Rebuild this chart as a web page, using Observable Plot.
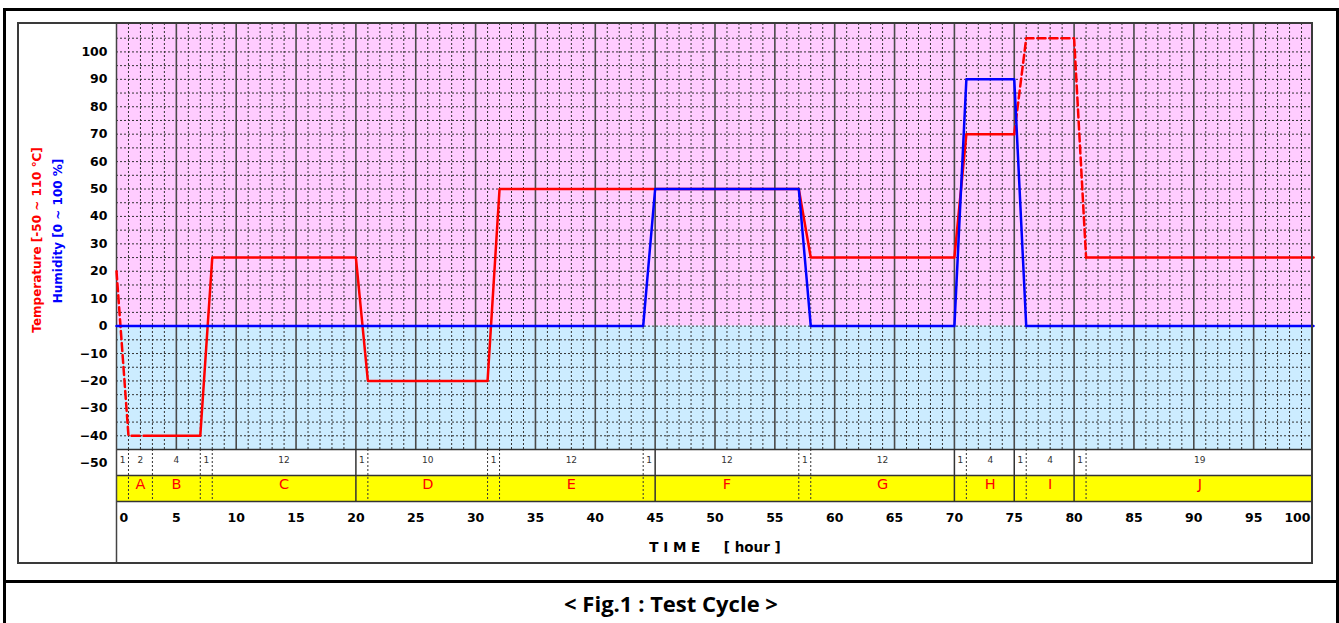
<!DOCTYPE html>
<html><head><meta charset="utf-8">
<script src="https://cdn.jsdelivr.net/npm/d3@7"></script>
<script src="https://cdn.jsdelivr.net/npm/@observablehq/plot@0.6"></script>
<style>
body{margin:0;background:#fff;}
#page{position:relative;width:1339px;height:623px;overflow:hidden;font-family:"DejaVu Sans",sans-serif;}
#chart{position:absolute;left:0;top:0;}
#chart svg text{white-space:pre;}
.box{position:absolute;box-sizing:border-box;pointer-events:none;}
#caption{position:absolute;left:3px;top:580px;width:1336px;height:70px;border:3px solid #000;box-sizing:border-box;
  text-align:center;font:bold 22px "Open Sans",sans-serif;line-height:40px;color:#000;}
</style></head><body>
<div id="page">
  <div id="chart"></div>
  <div class="box" style="left:3px;top:8px;width:1336px;height:575px;border:3px solid #000;"></div>
  <div class="box" style="left:17px;top:22px;width:1296px;height:542px;border:2px solid #3a3a3a;"></div>
  <div id="caption">&lt; Fig.1 : Test Cycle &gt;</div>
</div>
<script>
// ---- data ----
const tempTime  = [0, 1, 3, 7, 8, 20, 21, 31, 32, 44, 45, 57, 58, 70, 71, 75, 76, 80, 81, 100];
const tempValue = [20, -40, -40, -40, 25, 25, -20, -20, 50, 50, 50, 50, 25, 25, 70, 70, 105, 105, 25, 25];
const tempDashed = [[0, 3], [75, 81]];
const humTime  = [0, 44, 45, 57, 58, 70, 71, 75, 76, 100];
const humValue = [0, 0, 50, 50, 0, 0, 90, 90, 0, 0];
const segStart = [0, 1, 3, 7, 8, 20, 21, 31, 32, 44, 45, 57, 58, 70, 71, 75, 76, 80, 81];
const segHours = [1, 2, 4, 1, 12, 1, 10, 1, 12, 1, 12, 1, 12, 1, 4, 1, 4, 1, 19];
const phaseLetters = ["A", "B", "C", "D", "E", "F", "G", "H", "I", "J"];
const phaseStart = [1, 3, 8, 21, 32, 45, 58, 71, 76, 81];
const phaseEnd   = [3, 7, 20, 31, 44, 57, 70, 75, 80, 100];
const phaseBounds = [20, 45, 70, 75, 80];
const xTicks = [0, 5, 10, 15, 20, 25, 30, 35, 40, 45, 50, 55, 60, 65, 70, 75, 80, 85, 90, 95, 100];
const yTicks = [-50, -40, -30, -20, -10, 0, 10, 20, 30, 40, 50, 60, 70, 80, 90, 100];
const zones = [{lo: 0, hi: 110, fill: "#ffccff"}, {lo: -45, hi: 0, fill: "#ccecff"}];
const tempTitle = "Temperature [-50 ~ 110 ℃]";
const humTitle = "Humidity [0 ~ 100 %]";
const xTitle = "T I M E     [ hour ]";

// ---- derived tables ----
const tempRows = [];
{
  let piece = -1, prev = null;
  for (let i = 0; i < tempTime.length - 1; i++) {
    const a = tempTime[i], b = tempTime[i + 1];
    const dashed = tempDashed.some(([s, e]) => a >= s && b <= e);
    if (dashed !== prev) { piece++; prev = dashed; tempRows.push({t: a, v: tempValue[i], piece, dashed}); }
    tempRows.push({t: b, v: tempValue[i + 1], piece, dashed});
  }
}
const humRows = humTime.map((t, i) => ({t, v: humValue[i]}));
const segRows = segStart.map((s, i) => ({mid: s + segHours[i] / 2, label: String(segHours[i])}));
const phaseRows = phaseLetters.map((l, i) => ({mid: (phaseStart[i] + phaseEnd[i]) / 2, label: l}));
const subBounds = segStart.filter(s => s > 0 && !phaseBounds.includes(s));
const minorX = d3.range(1, 100).filter(h => h % 5 !== 0);
const majorX = d3.range(5, 100, 5);
const gridY = d3.range(-40, 110, 5);

// layout rows in y units (plot spans 110 .. -45)
const Y_TOP = 110, Y_PLOT_BOT = -45, Y_DUR_BOT = -54.5, Y_BAND_BOT = -64, Y_FRAME_BOT = -86.8;
const fmt = d => d < 0 ? "\u2212" + Math.abs(d) : String(d);
const gridColor = "#333";

const chart = Plot.plot({
  width: 1339, height: 580,
  marginLeft: 116, marginRight: 26, marginTop: 24, marginBottom: 131,
  x: {domain: [0, 100], axis: null},
  y: {domain: [Y_PLOT_BOT, Y_TOP], axis: null},
  color: {type: "identity"},
  style: {fontFamily: "DejaVu Sans, sans-serif", overflow: "visible", background: "transparent"},
  marks: [
    Plot.rect(zones, {x1: 0, x2: 100, y1: "lo", y2: "hi", fill: "fill"}),
    Plot.rect([0], {x1: 0, x2: 100, y1: Y_DUR_BOT, y2: Y_BAND_BOT, fill: "#ffff00"}),
    Plot.ruleX(minorX, {y1: Y_PLOT_BOT, y2: Y_TOP, stroke: gridColor, strokeWidth: 1, strokeDasharray: "2,2"}),
    Plot.ruleY(gridY, {x1: 0, x2: 100, stroke: gridColor, strokeWidth: 1, strokeDasharray: "2,2"}),
    Plot.ruleX(majorX, {y1: Y_PLOT_BOT, y2: Y_TOP, stroke: "#4a4a4a", strokeWidth: 1.6}),
    Plot.ruleY([Y_PLOT_BOT, Y_DUR_BOT, Y_BAND_BOT], {x1: 0, x2: 100, stroke: "#333", strokeWidth: 1.5}),
    Plot.ruleX([0], {y1: Y_TOP, y2: Y_FRAME_BOT, stroke: "#444", strokeWidth: 1.5}),
    Plot.ruleX(phaseBounds, {y1: Y_PLOT_BOT, y2: Y_BAND_BOT, stroke: "#333", strokeWidth: 1.5}),
    Plot.ruleX(subBounds, {y1: Y_PLOT_BOT, y2: Y_BAND_BOT, stroke: "#333", strokeWidth: 1, strokeDasharray: "2,2"}),
    Plot.line(tempRows.filter(d => !d.dashed), {x: "t", y: "v", z: "piece", stroke: "#ff0000", strokeWidth: 2.5}),
    Plot.line(tempRows.filter(d => d.dashed), {x: "t", y: "v", z: "piece", stroke: "#ff0000", strokeWidth: 2.5, strokeDasharray: "8,4"}),
    Plot.line(humRows, {x: "t", y: "v", stroke: "#0000ff", strokeWidth: 2.5}),
    Plot.text(yTicks, {y: d => d, text: fmt, frameAnchor: "left", textAnchor: "end", dx: -9, fontSize: 12.5, fontWeight: "bold", fill: "#000"}),
    Plot.text(xTicks.slice(0, 1), {x: d => d, text: fmt, frameAnchor: "bottom", textAnchor: "start", dx: 3, dy: 72, fontSize: 12.5, fontWeight: "bold", fill: "#000"}),
    Plot.text(xTicks.slice(1, -1), {x: d => d, text: fmt, frameAnchor: "bottom", dy: 72, fontSize: 12.5, fontWeight: "bold", fill: "#000"}),
    Plot.text(xTicks.slice(-1), {x: d => d, text: fmt, frameAnchor: "bottom", textAnchor: "end", dx: -3, dy: 72, fontSize: 12.5, fontWeight: "bold", fill: "#000"}),
    Plot.text(segRows, {x: "mid", text: "label", frameAnchor: "bottom", dy: 13, fontSize: 9, fill: "#333"}),
    Plot.text(phaseRows, {x: "mid", text: "label", frameAnchor: "bottom", dy: 39, fontSize: 14.5, fill: "#ff0000"}),
    Plot.text([xTitle], {text: d => d, frameAnchor: "bottom", textAnchor: "middle", dy: 102, fontSize: 13.5, fontWeight: "bold", fill: "#000"}),
    Plot.text([tempTitle], {text: d => d, frameAnchor: "left", textAnchor: "middle", dx: -79, dy: 3, rotate: -90, fontSize: 12, fontWeight: "bold", fill: "#ff0000"}),
    Plot.text([humTitle], {text: d => d, frameAnchor: "left", textAnchor: "middle", dx: -58, dy: -6, rotate: -90, fontSize: 12, fontWeight: "bold", fill: "#0000ff"})
  ]
});
document.getElementById("chart").appendChild(chart);
</script>
</body></html>
